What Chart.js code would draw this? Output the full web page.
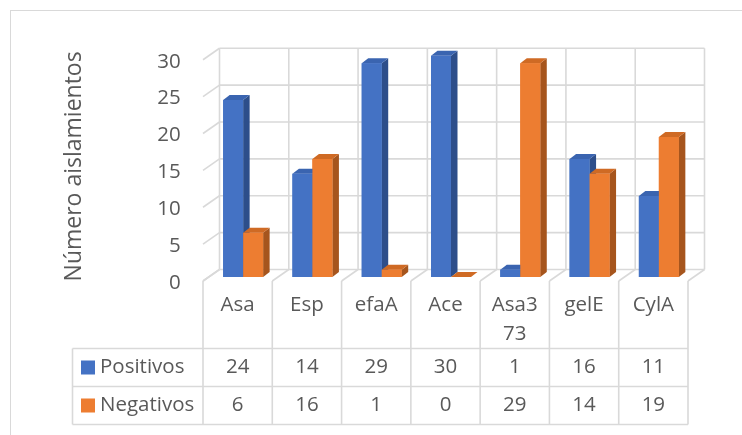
<!DOCTYPE html>
<html><head><meta charset="utf-8">
<script src="https://cdn.jsdelivr.net/npm/chart.js@4.4.1/dist/chart.umd.min.js"></script>
<style>html,body{margin:0;padding:0;background:#fff;overflow:hidden}#wrap{width:742px;height:435px;position:relative}</style>
</head><body><div id="wrap"><canvas id="c" width="742" height="435"></canvas></div>
<script>
const categories = ['Asa','Esp','efaA','Ace','Asa373','gelE','CylA'];
const positivos = [24,14,29,30,1,16,11];
const negativos = [6,16,1,0,29,14,19];
const seriesNames = ['Positivos','Negativos'];
const yTicks = [0,5,10,15,20,25,30];
const yTitle = 'Número aislamientos';

const FONT = "'Open Sans', 'Noto Sans', sans-serif";
const TXT = '#595959';
const GRID = '#d9d9d9';
const FRONT = ['#4472C4', '#ED7D31'];
const TOPC = ['#3A64B0', '#CF6A24'];
const SIDE = ['#2D4E8A', '#A6551D'];
const WALL = {dx: 16.5, dy: -11.5};
const BP = {dx: 5.5, dy: -4};
const BD = {dx: 6.5, dy: -5};

function line(ctx, x1, y1, x2, y2) { ctx.beginPath(); ctx.moveTo(x1, y1); ctx.lineTo(x2, y2); ctx.stroke(); }
function poly(ctx, pts) { ctx.beginPath(); ctx.moveTo(pts[0][0], pts[0][1]); for (let i = 1; i < pts.length; i++) ctx.lineTo(pts[i][0], pts[i][1]); ctx.closePath(); ctx.fill(); }

const threeD = {
  id: 'threeD',
  beforeDraw(chart) {
    const ctx = chart.ctx;
    ctx.save(); ctx.strokeStyle = GRID; ctx.lineWidth = 1;
    ctx.strokeRect(10.5, 10.5, 900, 900);
    ctx.restore();
  },
  beforeDatasetsDraw(chart) {
    const {ctx, scales: {x, y}} = chart;
    const n = categories.length;
    const half = (x.getPixelForTick(1) - x.getPixelForTick(0)) / 2;
    const xl = x.getPixelForTick(0) - half - BP.dx;
    const xr = x.getPixelForTick(n - 1) + half - BP.dx;
    ctx.save(); ctx.strokeStyle = GRID; ctx.lineWidth = 1.6;
    yTicks.forEach(v => {
      const yf = y.getPixelForValue(v) - BP.dy;
      line(ctx, xl, yf, xl + WALL.dx, yf + WALL.dy);
      line(ctx, xl + WALL.dx, yf + WALL.dy, xr + WALL.dx, yf + WALL.dy);
    });
    const y0 = y.getPixelForValue(yTicks[0]) - BP.dy;
    const yT = y.getPixelForValue(yTicks[yTicks.length - 1]) - BP.dy;
    for (let i = 0; i <= n; i++) {
      const xi = x.getPixelForTick(Math.min(i, n - 1)) + (i === n ? half : -half) - BP.dx;
      line(ctx, xi + WALL.dx, y0 + WALL.dy, xi + WALL.dx, yT + WALL.dy);
      line(ctx, xi, y0, xi + WALL.dx, y0 + WALL.dy);
    }
    ctx.restore();
  },
  afterDatasetsDraw(chart) {
    const ctx = chart.ctx;
    ctx.save();
    chart.data.datasets.forEach((ds, di) => {
      const meta = chart.getDatasetMeta(di);
      meta.data.forEach(el => {
        const p = el.getProps(['x', 'y', 'base', 'width'], true);
        const l = p.x - p.width / 2, r = p.x + p.width / 2;
        ctx.fillStyle = SIDE[di];
        poly(ctx, [[r, p.y], [r + BD.dx, p.y + BD.dy], [r + BD.dx, p.base + BD.dy], [r, p.base]]);
        ctx.fillStyle = TOPC[di];
        poly(ctx, [[l, p.y], [l + BD.dx, p.y + BD.dy], [r + BD.dx, p.y + BD.dy], [r, p.y]]);
        el.draw(ctx);
      });
    });
    ctx.restore();
  },
  afterDraw(chart) {
    const {ctx, scales: {x, y}} = chart;
    const n = categories.length;
    const half = (x.getPixelForTick(1) - x.getPixelForTick(0)) / 2;
    const y0 = y.getPixelForValue(0) - BP.dy;
    const top = 348.5, rh = 38, left = 72.5;
    const bottom = top + rh * 2;
    const colX = i => x.getPixelForTick(Math.min(i, n - 1)) + (i === n ? half : -half) - BP.dx;
    ctx.save();
    ctx.strokeStyle = GRID; ctx.lineWidth = 1.6;
    for (let i = 0; i <= n; i++) line(ctx, colX(i), y0, colX(i), bottom);
    line(ctx, left, top, left, bottom);
    for (let r = 0; r <= 2; r++) line(ctx, left, top + rh * r, colX(n), top + rh * r);
    const rows = [positivos, negativos];
    ctx.font = `20.5px ${FONT}`;
    ctx.textBaseline = 'middle';
    rows.forEach((vals, r) => {
      const cy = top + rh * r + rh / 2;
      ctx.fillStyle = FRONT[r];
      ctx.fillRect(81, cy - 7, 14, 14);
      ctx.fillStyle = TXT; ctx.textAlign = 'left';
      ctx.fillText(chart.data.datasets[r].label, 100, cy);
      ctx.textAlign = 'center';
      vals.forEach((v, i) => ctx.fillText(String(v), x.getPixelForTick(i) - BP.dx, cy));
    });
    ctx.restore();
  }
};

new Chart(document.getElementById('c'), {
  type: 'bar',
  data: {
    labels: categories,
    datasets: [
      {label: seriesNames[0], data: positivos, backgroundColor: FRONT[0], borderWidth: 0},
      {label: seriesNames[1], data: negativos, backgroundColor: FRONT[1], borderWidth: 0}
    ]
  },
  options: {
    responsive: false,
    animation: false,
    layout: {padding: {left: 0, top: 55.75, right: 48.5, bottom: 8}},
    datasets: {bar: {categoryPercentage: 0.577, barPercentage: 1.0}},
    plugins: {legend: {display: false}, tooltip: {enabled: false}},
    scales: {
      x: {
        grid: {display: false, drawTicks: false}, border: {display: false},
        ticks: {
          color: TXT, font: {family: FONT, size: 20.5, lineHeight: 1.45},
          padding: 13, labelOffset: -5.5, autoSkip: false, maxRotation: 0, minRotation: 0,
          callback: function (v, i) { const s = this.getLabelForValue(v); return s.length > 4 ? s.match(/.{1,4}/g) : s; }
        },
        afterFit: s => { s.height = 150; }
      },
      y: {
        min: 0, max: 30,
        grid: {display: false, drawTicks: false}, border: {display: false},
        ticks: {stepSize: 5, color: TXT, font: {family: FONT, size: 20.5}, padding: 27.8, labelOffset: 6},
        title: {display: true, text: yTitle, color: TXT, font: {family: FONT, size: 23}, padding: {top: 61, bottom: 0}},
        afterFit: s => { s.width = 208.5; }
      }
    }
  },
  plugins: [threeD]
});
</script></body></html>
